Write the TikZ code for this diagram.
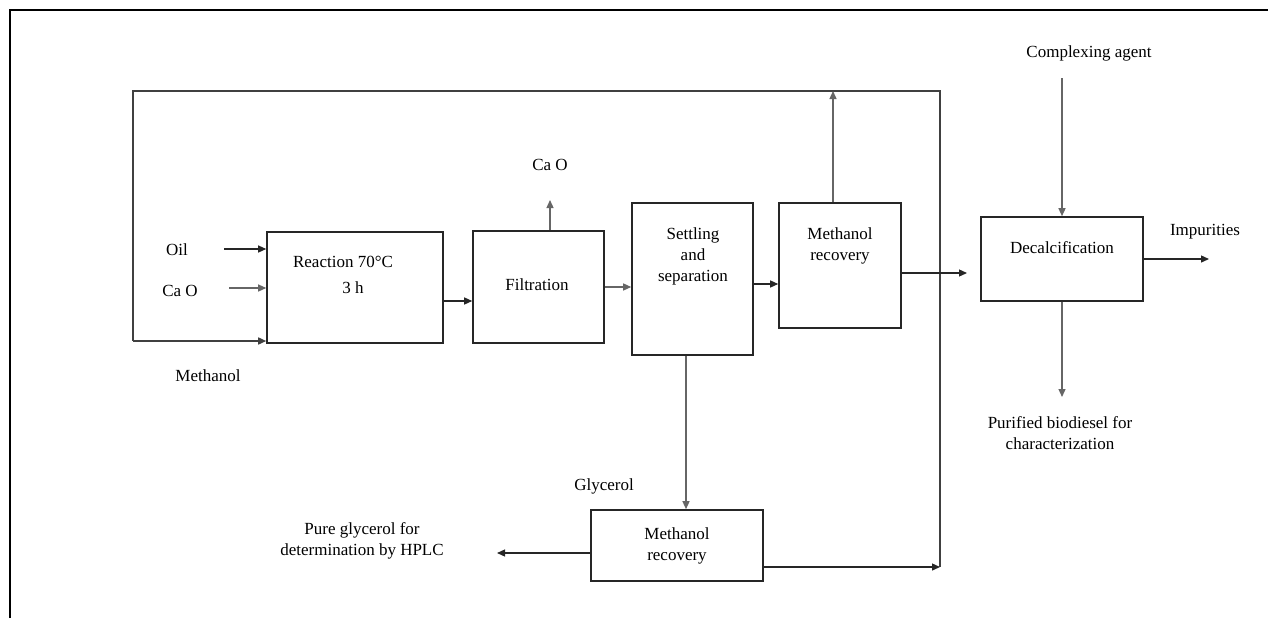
\documentclass[tikz,border=0pt]{standalone}
\usepackage{fontspec}
\setmainfont{Liberation Serif}
\usetikzlibrary{arrows.meta}
\tikzset{
  box/.style={draw=black!85, line width=1.6pt, inner sep=0pt, fill=none},
  txt/.style={font=\fontsize{17}{21}\selectfont, align=center, inner sep=1pt},
  flow/.style={line width=1.3pt, draw=black!85, -{Triangle[length=8pt,width=7pt]}},
  lightflow/.style={flow, draw=black!60},
  loopline/.style={line width=1.6pt, draw=black!75},
  frameline/.style={line width=2.6pt, draw=black}
}
\begin{document}
\begin{tikzpicture}[x=1pt,y=-1pt]
\useasboundingbox (0,0) rectangle (1268,618);
% frame
\draw[frameline] (10,618) -- (10,10) -- (1268,10);

% boxes
\node[box, minimum width=176pt, minimum height=111pt] (reaction) at (355,287.5) {};
\node[box, minimum width=131pt, minimum height=112pt] (filtration) at (538.5,287) {};
\node[box, minimum width=121pt, minimum height=152pt] (settling) at (692.5,279) {};
\node[box, minimum width=122pt, minimum height=125pt] (mrtop) at (840,265.5) {};
\node[box, minimum width=162pt, minimum height=84pt] (decal) at (1062,259) {};
\node[box, minimum width=172pt, minimum height=71pt] (mrbot) at (677,545.5) {};

% box texts
\node[txt] (reactionT1) at (343,262) {Reaction 70°C};
\node[txt] (reactionT2) at (353,288) {3 h};
\node[txt] (filtrationT) at (537,285) {Filtration};
\node[txt] (settlingT) at (693,256) {Settling\\and\\separation};
\node[txt] (mrtopT) at (840,246) {Methanol\\recovery};
\node[txt] (decalT) at (1062,248) {Decalcification};
\node[txt] (mrbotT) at (677,545.5) {Methanol\\recovery};

% free labels
\node[txt] (oil) at (177,250) {Oil};
\node[txt] (caoin) at (180,291) {Ca O};
\node[txt] (methanol) at (208,376) {Methanol};
\node[txt] (caoout) at (550,165) {Ca O};
\node[txt] (complex) at (1089,53) {Complexing agent};
\node[txt] (impur) at (1205,232) {Impurities};
\node[txt] (purified) at (1060,433.5) {Purified biodiesel for\\characterization};
\node[txt] (glycerol) at (604,486) {Glycerol};
\node[txt] (pureglyc) at (362,540.5) {Pure glycerol for\\determination by HPLC};

% coordinates
\coordinate (oilS) at (224,249);
\coordinate (caoS) at (229,288);
\coordinate (caoE) at (550,200);
\coordinate (loopTL) at (133,91);
\coordinate (loopBL) at (133,341);
\coordinate (loopTR) at (940,91);
\coordinate (loopBR) at (940,567);
\coordinate (mrtopUp) at (833,91);
\coordinate (decalIn) at (967,273);
\coordinate (complexS) at (1062,78);
\coordinate (impurE) at (1209,259);
\coordinate (purE) at (1062,397);
\coordinate (glycE) at (497,553);

% feeds
\draw[flow] (oilS) -- (oilS -| reaction.west);
\draw[lightflow] (caoS) -- (caoS -| reaction.west);
\draw[loopline] (loopBR) -- (loopTR) -- (loopTL) -- (loopBL);
\draw[flow, draw=black!75, line width=1.6pt] (loopBL) -- (loopBL -| reaction.west);

% main line
\draw[flow] (reaction.east |- 0,301) -- (filtration.west |- 0,301);
\draw[lightflow] (filtration.north -| caoE) -- (caoE);
\draw[lightflow] (filtration.east |- 0,287) -- (settling.west |- 0,287);
\draw[flow] (settling.east |- 0,284) -- (mrtop.west |- 0,284);
\draw[lightflow] (mrtop.north -| mrtopUp) -- (mrtopUp);
\draw[flow] (mrtop.east |- decalIn) -- (decalIn);
\draw[lightflow] (complexS) -- (decal.north -| complexS);
\draw[flow] (decal.east |- impurE) -- (impurE);
\draw[lightflow] (decal.south -| purE) -- (purE);

% glycerol branch
\draw[lightflow] (settling.south -| 0,0 -| 686,0) -- (686,0 |- mrbot.north);
\draw[flow] (mrbot.west |- glycE) -- (glycE);
\draw[flow] (mrbot.east |- loopBR) -- (loopBR);
\end{tikzpicture}
\end{document}
